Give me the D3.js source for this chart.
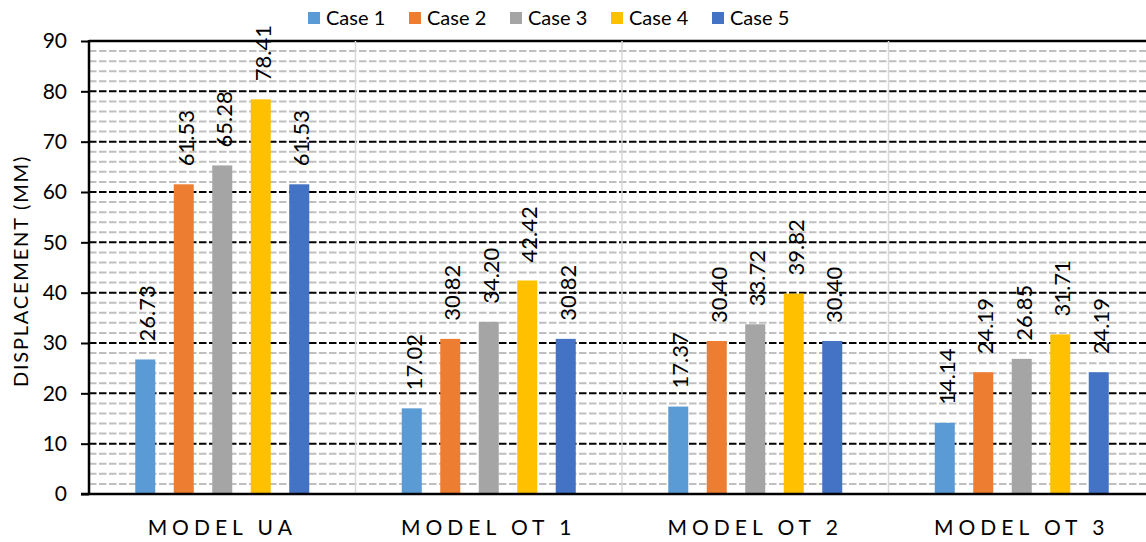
<!DOCTYPE html>
<html><head><meta charset="utf-8">
<script src="https://cdn.jsdelivr.net/npm/d3@7"></script>
<style>body{margin:0;background:#fff}svg{display:block}text{font-family:Lato,"Open Sans",sans-serif}</style>
</head><body><svg id="c" width="1146" height="542"></svg>
<script>
const categories = ["MODEL UA","MODEL OT 1","MODEL OT 2","MODEL OT 3"];
const seriesNames = ["Case 1","Case 2","Case 3","Case 4","Case 5"];
const colors = ["#5b9bd5","#ed7d31","#a5a5a5","#ffc000","#4472c4"];
const case1 = [26.73,17.02,17.37,14.14];
const case2 = [61.53,30.82,30.40,24.19];
const case3 = [65.28,34.20,33.72,26.85];
const case4 = [78.41,42.42,39.82,31.71];
const case5 = [61.53,30.82,30.40,24.19];
const labels = [
  ["26.73","61.53","65.28","78.41","61.53"],
  ["17.02","30.82","34.20","42.42","30.82"],
  ["17.37","30.40","33.72","39.82","30.40"],
  ["14.14","24.19","26.85","31.71","24.19"]];
const yTicks = [0,10,20,30,40,50,60,70,80,90];
const series = [case1,case2,case3,case4,case5];

const svg = d3.select("#c");
const x0 = 89, x1 = 1155, yTop = 41, yBot = 494;
const x = d3.scaleBand().domain(categories).range([x0,x1]).padding(0);
const y = d3.scaleLinear().domain([0,90]).range([yBot,yTop]);
const inner = d3.scaleBand().domain(seriesNames).paddingInner(0.48).paddingOuter(0);

// minor grid
const minor = d3.range(0,91,2).filter(v=>v%10!==0);
svg.append("g").selectAll("line").data(minor).join("line")
  .attr("x1",x0).attr("x2",x1).attr("y1",d=>y(d)).attr("y2",d=>y(d))
  .attr("stroke","#bfbfbf").attr("stroke-width",2).attr("stroke-dasharray","7.5,2.5");
// major grid
svg.append("g").selectAll("line").data(yTicks.filter(v=>v>0&&v<90)).join("line")
  .attr("x1",x0).attr("x2",x1).attr("y1",d=>y(d)).attr("y2",d=>y(d))
  .attr("stroke","#000").attr("stroke-width",2).attr("stroke-dasharray","7.5,2.5");
// top border
svg.append("line").attr("x1",x0).attr("x2",x1).attr("y1",y(90)).attr("y2",y(90))
  .attr("stroke","#000").attr("stroke-width",2.5);
// category separators
svg.append("g").selectAll("line").data(categories.slice(1)).join("line")
  .attr("x1",d=>x(d)).attr("x2",d=>x(d)).attr("y1",yTop).attr("y2",yBot)
  .attr("stroke","#d9d9d9").attr("stroke-width",1.5);

// bars
const cat = svg.append("g").selectAll("g").data(categories).join("g");
cat.each(function(c,ci){
  const cx = x(c)+x.bandwidth()/2;
  const sc = inner.copy().range([cx-87,cx+87]);
  const g = d3.select(this);
  seriesNames.forEach((s,si)=>{
    const v = series[si][ci];
    g.append("rect").attr("x",sc(s)).attr("width",sc.bandwidth())
      .attr("y",y(v)).attr("height",y(0)-y(v)).attr("fill",colors[si]);
    const tx = sc(s)+sc.bandwidth()/2, ty = y(v)-18;
    g.append("text").attr("transform",`translate(${tx+10},${ty}) rotate(-90)`)
      .attr("font-size",22).attr("fill","#000").text(labels[ci][si]);
  });
});

// y axis
const ya = svg.append("g").attr("transform",`translate(${x0},0)`)
  .call(d3.axisLeft(y).tickValues(yTicks).tickSize(8).tickPadding(14).tickFormat(d3.format("d")));
ya.select(".domain").remove();
ya.selectAll(".tick line").attr("stroke","#000").attr("stroke-width",2);
ya.selectAll(".tick text").attr("font-size",21).attr("fill","#000").attr("font-family","Lato");
svg.append("line").attr("x1",x0).attr("x2",x0).attr("y1",yTop-1).attr("y2",yBot+1)
  .attr("stroke","#000").attr("stroke-width",2.5);
// x axis
const xa = svg.append("g").attr("transform",`translate(0,${yBot})`)
  .call(d3.axisBottom(x).tickSize(0).tickPadding(26));
xa.select(".domain").remove();
xa.selectAll(".tick text").attr("font-size",21).attr("fill","#000").attr("font-family","Lato")
  .attr("letter-spacing","5px");
svg.append("line").attr("x1",x0-8).attr("x2",x1).attr("y1",yBot).attr("y2",yBot)
  .attr("stroke","#000").attr("stroke-width",2.5);

// y title
svg.append("text").attr("transform","translate(28,271) rotate(-90)")
  .attr("text-anchor","middle").attr("font-size",20).attr("letter-spacing","1.8px")
  .attr("fill","#000").text("DISPLACEMENT (MM)");

// legend
const lg = svg.append("g").selectAll("g").data(seriesNames).join("g")
  .attr("transform",(d,i)=>`translate(${308+i*101},0)`);
lg.append("rect").attr("x",0).attr("y",12).attr("width",12).attr("height",12).attr("fill",(d,i)=>colors[i]);
lg.append("text").attr("x",18).attr("y",25).attr("font-size",20).attr("fill","#000").text(d=>d);
</script></body></html>
